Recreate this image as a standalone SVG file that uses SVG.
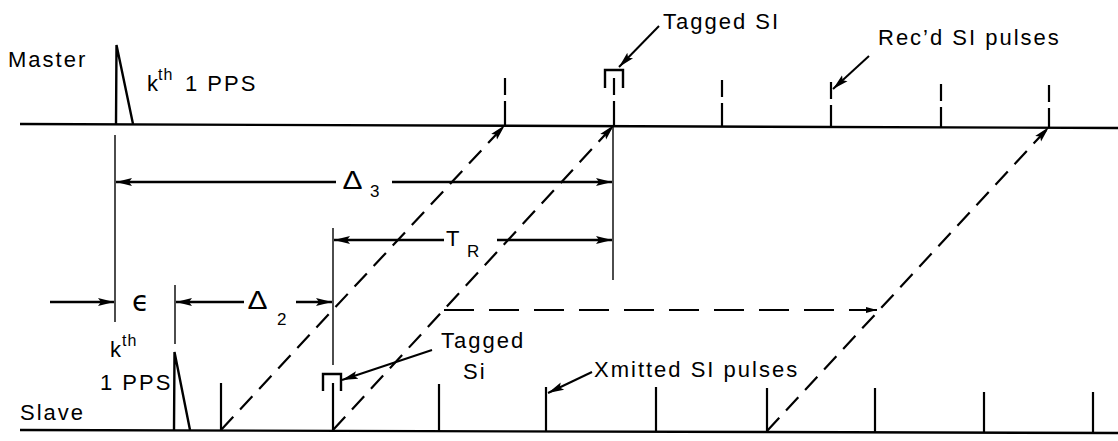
<svg xmlns="http://www.w3.org/2000/svg" width="1118" height="441" viewBox="0 0 1118 441">
  <defs>
    <marker id="arrow" markerUnits="userSpaceOnUse" markerWidth="17" markerHeight="11" refX="16" refY="5.5" orient="auto">
      <path d="M0,1.5 L16,5.5 L0,9.5 L3,5.5 Z" fill="#000"/>
    </marker>
    <marker id="arrowSmall" markerUnits="userSpaceOnUse" markerWidth="12" markerHeight="8" refX="11" refY="4" orient="auto">
      <path d="M0,1 L11,4 L0,7 Z" fill="#000"/>
    </marker>
  </defs>
  <style>
    .axis { stroke: #000; stroke-width: 2.4; fill: none; }
    .tick { stroke: #000; stroke-width: 2.2; fill: none; }
    .rtick { stroke: #000; stroke-width: 2.2; fill: none; stroke-dasharray: 17 6 40; }
    .pulse { stroke: #000; stroke-width: 2.4; fill: none; stroke-linejoin: miter; }
    .ref { stroke: #000; stroke-width: 1.4; fill: none; }
    .dim { stroke: #000; stroke-width: 2.4; fill: none; marker-end: url(#arrow); }
    .prop { stroke: #000; stroke-width: 2.2; fill: none; stroke-dasharray: 18 10; marker-end: url(#arrow); }
    .hdash { stroke: #000; stroke-width: 2.2; fill: none; stroke-dasharray: 30 15; marker-end: url(#arrowSmall); }
    .lead { stroke: #000; stroke-width: 2; fill: none; marker-end: url(#arrow); }
    .tag { stroke: #000; stroke-width: 2.4; fill: none; }
    text { font-family: "Liberation Sans", Arial, sans-serif; fill: #000; }
    .lbl { font-size: 22px; letter-spacing: 2px; }
    .sup { font-size: 16px; letter-spacing: 1px; }
    .sym { font-size: 25px; }
    .sub { font-size: 17px; }
  </style>

  <rect width="1118" height="441" fill="#fff"/>

  <!-- Master time line -->
  <g id="master">
    <line class="axis" x1="20" y1="124" x2="1118" y2="128"/>
    <text class="lbl" x="8" y="67">Master</text>
    <polyline class="pulse" points="116,124 116.5,45 133,124"/>
    <text class="lbl" x="147" y="91">k</text>
    <text class="sup" x="158" y="80">th</text>
    <text class="lbl" x="185" y="91">1 PPS</text>
  </g>

  <!-- Received SI pulses on master -->
  <g id="master-pulses">
    <line class="rtick" x1="505" y1="78" x2="505" y2="125"/>
    <line class="rtick" x1="614" y1="78" x2="614" y2="125"/>
    <line class="rtick" x1="722" y1="80" x2="722" y2="126"/>
    <line class="rtick" x1="831" y1="82" x2="831" y2="127"/>
    <line class="rtick" x1="941" y1="84" x2="941" y2="127"/>
    <line class="rtick" x1="1049" y1="85" x2="1049" y2="128"/>
    <polyline class="tag" points="605,88 605,70 623,70 623,88"/>
  </g>

  <!-- Slave time line -->
  <g id="slave">
    <line class="axis" x1="20" y1="430" x2="1118" y2="433"/>
    <text class="lbl" x="20" y="420">Slave</text>
    <polyline class="pulse" points="174,430 174.5,352 190,430"/>
    <text class="lbl" x="110" y="357">k</text>
    <text class="sup" x="122" y="346">th</text>
    <text class="lbl" x="100" y="390">1 PPS</text>
  </g>

  <!-- Transmitted SI pulses on slave -->
  <g id="slave-pulses">
    <line class="tick" x1="221" y1="383" x2="221" y2="430"/>
    <line class="tick" x1="333" y1="383" x2="333" y2="430"/>
    <line class="tick" x1="439" y1="384" x2="439" y2="431"/>
    <line class="tick" x1="546" y1="387" x2="546" y2="431"/>
    <line class="tick" x1="656" y1="387" x2="656" y2="432"/>
    <line class="tick" x1="767" y1="388" x2="767" y2="432"/>
    <line class="tick" x1="875" y1="388" x2="875" y2="432"/>
    <line class="tick" x1="984" y1="392" x2="984" y2="433"/>
    <line class="tick" x1="1093" y1="392" x2="1093" y2="433"/>
    <polyline class="tag" points="323,391 323,374 341,374 341,391"/>
  </g>

  <!-- Reference lines and interval dimensions -->
  <g id="dimensions">
    <line class="ref" x1="115" y1="135" x2="115" y2="322"/>
    <line class="ref" x1="175" y1="285" x2="175" y2="344"/>
    <line class="ref" x1="333" y1="228" x2="333" y2="365"/>
    <line class="ref" x1="613" y1="125" x2="613" y2="280"/>

    <!-- Delta 3 -->
    <line class="dim" x1="336" y1="182" x2="116" y2="182"/>
    <line class="dim" x1="392" y1="182" x2="612" y2="182"/>
    <text class="sym" x="342" y="189" transform="translate(-68 0) scale(1.2 1)">Δ</text>
    <text class="sub" x="370" y="197">3</text>

    <!-- T_R -->
    <line class="dim" x1="444" y1="240" x2="334" y2="240"/>
    <line class="dim" x1="497" y1="240" x2="612" y2="240"/>
    <text class="lbl" x="446" y="246">T</text>
    <text class="sub" x="467" y="257">R</text>

    <!-- epsilon -->
    <line class="dim" x1="50" y1="302" x2="114" y2="302"/>
    <text style="font-family: 'DejaVu Sans', sans-serif; font-size: 28px;" x="132" y="311">ϵ</text>

    <!-- Delta 2 -->
    <line class="dim" x1="244" y1="302" x2="176" y2="302"/>
    <line class="dim" x1="296" y1="302" x2="332" y2="302"/>
    <text class="sym" x="247" y="309" transform="translate(-49 0) scale(1.2 1)">Δ</text>
    <text class="sub" x="277" y="325">2</text>
  </g>

  <!-- Propagation paths slave to master -->
  <g id="connectors">
    <line class="prop" x1="221" y1="430" x2="505" y2="125"/>
    <line class="prop" x1="333" y1="430" x2="614" y2="125"/>
    <line class="prop" x1="767" y1="431" x2="1049" y2="127"/>
    <line class="hdash" x1="444" y1="310" x2="877" y2="310"/>
  </g>

  <!-- Annotations -->
  <g id="labels">
    <text class="lbl" x="663" y="29">Tagged SI</text>
    <line class="lead" x1="659" y1="26" x2="619" y2="67"/>

    <text class="lbl" x="878" y="45">Rec’d SI pulses</text>
    <line class="lead" x1="869" y1="56" x2="833" y2="89"/>

    <text class="lbl" x="441" y="348">Tagged</text>
    <text class="lbl" x="463" y="379">Si</text>
    <line class="lead" x1="432" y1="350" x2="342" y2="380"/>

    <text class="lbl" x="594" y="377">Xmitted SI pulses</text>
    <line class="lead" x1="592" y1="372" x2="548" y2="393"/>
  </g>
</svg>
